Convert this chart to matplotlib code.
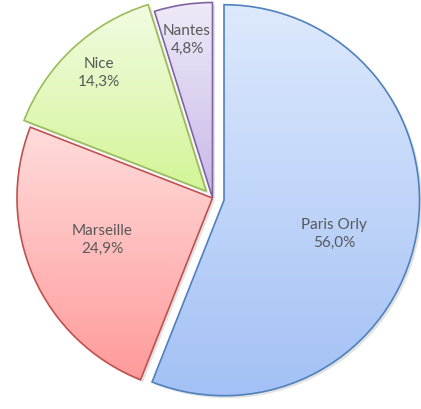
import matplotlib
matplotlib.use('Agg')
import matplotlib.pyplot as plt
import numpy as np
from matplotlib.colors import LinearSegmentedColormap
from matplotlib.patches import Wedge

labels = ['Paris Orly', 'Marseille', 'Nice', 'Nantes']
shares = [56.0, 24.9, 14.3, 4.8]
explode = [0.06, 0.0, 0.047, 0.0]

# gradient top -> bottom, edge colour
tops = ['#dde9fd', '#ffdcdc', '#f2fbe2', '#efeaf9']
bottoms = ['#a3c1f5', '#ff9a9a', '#d3f597', '#c7b8e7']
edges = ['#4f81bd', '#c0504d', '#9bbb59', '#8064a2']
label_pos = [(334, 234), (102, 240), (99, 73), (187, 40)]

W, H = 421, 410
fig = plt.figure(figsize=(W / 100, H / 100), dpi=100)
ax = fig.add_axes([0, 0, 1, 1])
ax.set_xlim(0, W)
ax.set_ylim(H, 0)
ax.set_aspect('equal')
ax.axis('off')

cx, cy, r = 212.5, 199, 195.5
angle = 90.0
total = sum(shares)
for i, s in enumerate(shares):
    span = 360.0 * s / total
    a1, a2 = angle - span, angle
    mid = np.deg2rad((a1 + a2) / 2)
    # y axis inverted: screen angles flip sign
    ox = cx + explode[i] * r * np.cos(mid)
    oy = cy - explode[i] * r * np.sin(mid)
    t1, t2 = -a2, -a1

    shadow = Wedge((ox + 2.5, oy + 2.5), r, t1, t2, facecolor='#a0a0a0',
                   edgecolor='none', alpha=0.3, zorder=1)
    ax.add_patch(shadow)

    w = Wedge((ox, oy), r, t1, t2, facecolor='none', edgecolor=edges[i],
              linewidth=1.2, zorder=3)
    ax.add_patch(w)
    clip = Wedge((ox, oy), r, t1, t2, facecolor='none', edgecolor='none')
    ax.add_patch(clip)
    ext = w.get_path().get_extents()
    cmap = LinearSegmentedColormap.from_list('g%d' % i, [tops[i], bottoms[i]])
    grad = np.linspace(0, 1, 256).reshape(-1, 1)
    im = ax.imshow(grad, cmap=cmap, aspect='auto', zorder=2,
                   extent=(ext.x0, ext.x1, ext.y1, ext.y0))
    im.set_clip_path(clip)

    ax.text(label_pos[i][0], label_pos[i][1],
            '%s\n%s%%' % (labels[i], ('%.1f' % s).replace('.', ',')),
            ha='center', va='center', fontsize=11, family='Lato',
            color='#595959', linespacing=1.4, zorder=5)
    angle = a1

ax.set_xlim(0, W)
ax.set_ylim(H, 0)
fig.savefig('out.png', dpi=100)
